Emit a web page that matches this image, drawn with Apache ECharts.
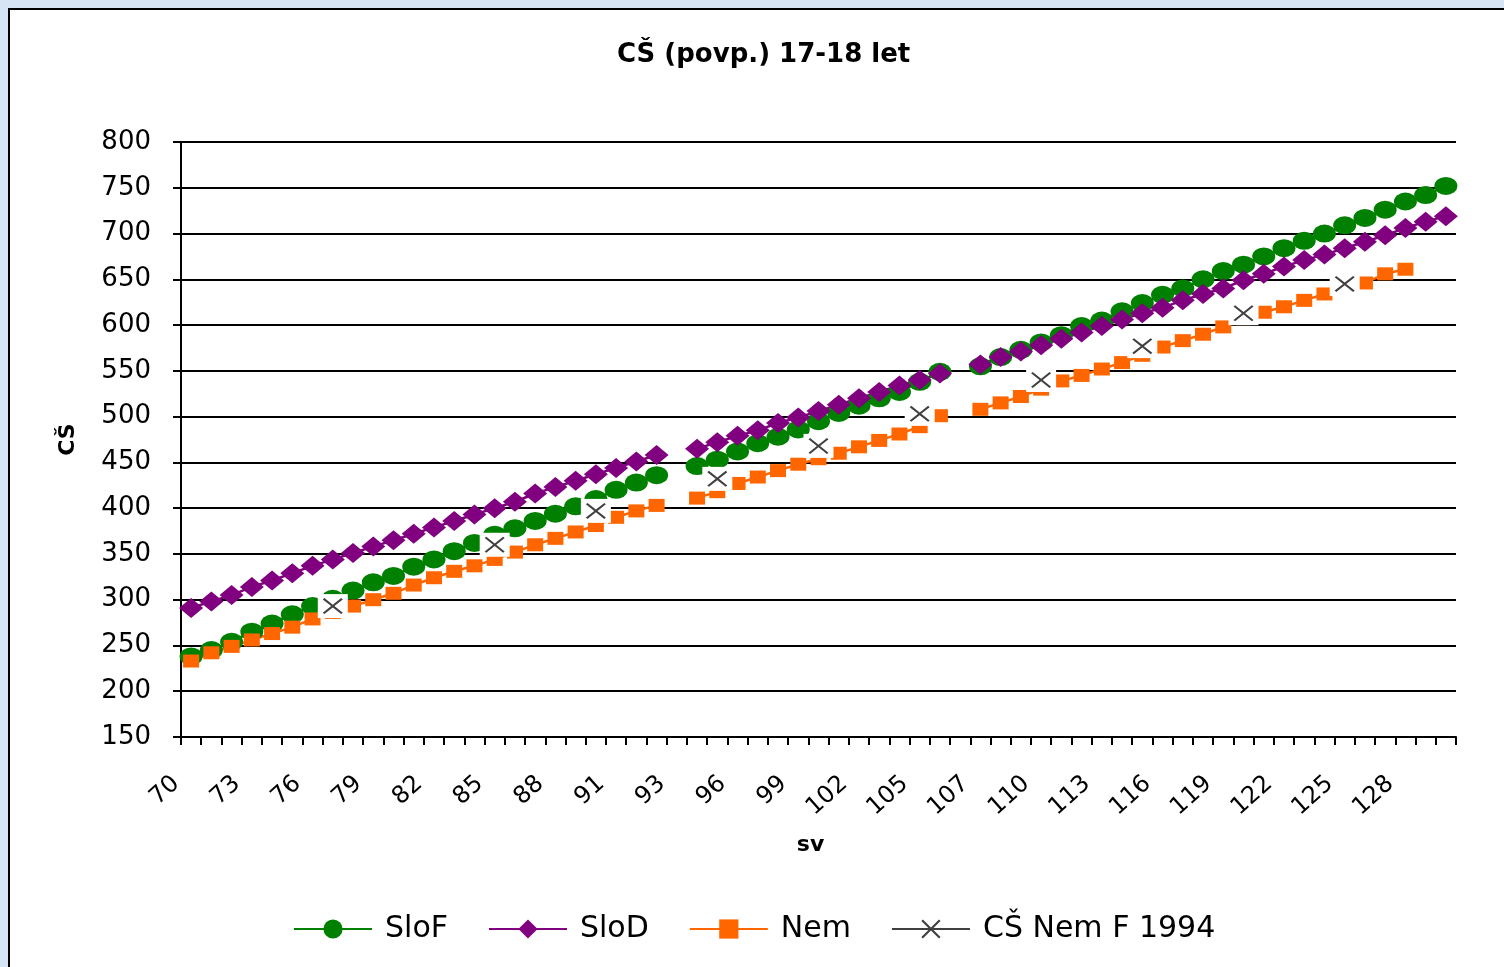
<!DOCTYPE html>
<html>
<head>
<meta charset="utf-8">
<script src="https://cdn.jsdelivr.net/npm/echarts@6/dist/echarts.min.js"></script>
<style>
  html, body { margin: 0; padding: 0; width: 1504px; height: 967px; overflow: hidden; }
  body { background: #d6e4f4; position: relative; }
  #frame { position: absolute; left: 8px; top: 8px; width: 1600px; height: 1100px; background: #fff; border-left: 2px solid #000; border-top: 2px solid #000; }
  #chart { position: absolute; left: 0; top: 0; width: 1504px; height: 967px; }
</style>
</head>
<body>
<div id="frame"></div>
<div id="chart"></div>
<script>
// Categories (sv); the duplicated 93 and 106 rows are blank separator rows
const categories = ['70','71','72','73','74','75','76','77','78','79','80','81','82','83','84','85','86','87','88','89','90','91','92','93',
  '93','94','95','96','97','98','99','100','101','102','103','104','105','106',
  '106','107','108','109','110','111','112','113','114','115','116','117','118','119','120','121','122','123','124','125','126','127','128','129','130'];

const sloF = [238,245,254,265,274,284,293,301,310,319,326,336,344,353,362,371,378,386,394,402,410,420,428,436,
  null,446,453,462,471,478,486,495,504,512,520,527,538,549,
  null,555,565,573,581,589,599,605,615,624,633,640,650,659,666,675,684,692,700,709,717,726,735,742,752];

const sloD = [291,298,305,314,321,329,337,344,351,358,365,372,379,386,393,400,407,416,423,430,437,444,451,458,
  null,465,472,479,485,493,499,506,513,520,527,534,540,547,
  null,557,565,571,578,585,592,599,606,613,619,627,634,640,649,656,664,671,677,684,691,698,706,713,719];

const nem = [233,242,249,256,263,270,279,286,293,300,307,316,324,331,337,344,352,360,367,374,381,390,397,403,
  null,411,418,427,434,441,448,454,460,467,474,481,489,501,
  null,508,515,522,530,539,545,552,559,567,576,583,590,598,607,614,620,627,634,640,646,656,661,null,null];

// CŠ Nem F 1994: values only at selected sv
const nemF1994Cats = ['77','85','90','95','100','105','110','115','120','125'];
const nemF1994Vals = [293,360,397,432,468,503,540,577,613,645];

const nemF1994 = categories.map(() => null);
nemF1994Cats.forEach((c, k) => { nemF1994[categories.lastIndexOf(c)] = nemF1994Vals[k]; });

const yTicks = { min: 150, max: 800, interval: 50 };

const FONT = 'DejaVu Sans';
const xPath = 'path://M0,1.6 L1.6,0 L10,8.4 L18.4,0 L20,1.6 L11.6,10 L20,18.4 L18.4,20 L10,11.6 L1.6,20 L0,18.4 L8.4,10 Z';

const chart = echarts.init(document.getElementById('chart'), null, { renderer: 'canvas' });
chart.setOption({
  animation: false,
  backgroundColor: 'transparent',
  title: {
    text: 'CŠ (povp.) 17-18 let',
    left: 612, top: 37,
    textStyle: { fontFamily: FONT, fontWeight: 'bold', fontSize: 26, color: '#000' }
  },
  legend: {
    data: ['SloF', 'SloD', 'Nem', 'CŠ Nem F 1994'],
    left: 288, top: 909,
    itemWidth: 78, itemHeight: 24, itemGap: 40,
    textStyle: { fontFamily: FONT, fontSize: 30, color: '#000', padding: [0, 0, 0, 8] }
  },
  grid: { left: 181, right: 48, top: 142, bottom: 230, containLabel: false },
  xAxis: {
    type: 'category',
    data: categories,
    boundaryGap: true,
    name: 'sv',
    nameLocation: 'middle',
    nameGap: 97,
    nameTextStyle: { fontFamily: FONT, fontWeight: 'bold', fontSize: 22, color: '#000', padding: [0, 16, 0, 0] },
    axisLine: { lineStyle: { color: '#000', width: 2 } },
    axisTick: { show: true, interval: 0, length: 8, lineStyle: { color: '#000', width: 2 } },
    axisLabel: { interval: 2, rotate: 42, margin: 30, padding: [0, 20, 0, 0], fontFamily: FONT, fontSize: 24, color: '#000' },
    splitLine: { show: false }
  },
  yAxis: {
    type: 'value',
    min: yTicks.min, max: yTicks.max, interval: yTicks.interval,
    name: 'CŠ',
    nameLocation: 'middle',
    nameGap: 102,
    nameRotate: 90,
    nameTextStyle: { fontFamily: FONT, fontWeight: 'bold', fontSize: 22, color: '#000' },
    axisLine: { show: true, lineStyle: { color: '#000', width: 2 } },
    axisTick: { show: true, length: 8, lineStyle: { color: '#000', width: 2 } },
    axisLabel: { margin: 30, fontFamily: FONT, fontSize: 26, color: '#000' },
    splitLine: { show: true, lineStyle: { color: '#000', width: 2 } }
  },
  series: [
    {
      name: 'SloF', type: 'line', data: sloF,
      symbol: 'circle', symbolSize: [23, 18], showAllSymbol: true,
      itemStyle: { color: '#008000' },
      lineStyle: { color: '#008000', width: 2.5 }
    },
    {
      name: 'SloD', type: 'line', data: sloD,
      symbol: 'diamond', symbolSize: [24, 20], showAllSymbol: true,
      itemStyle: { color: '#800080' },
      lineStyle: { color: '#800080', width: 2.5 }
    },
    {
      name: 'Nem', type: 'line', data: nem,
      symbol: 'rect', symbolSize: [16, 13], showAllSymbol: true,
      itemStyle: { color: '#FF6600' },
      lineStyle: { color: '#FF6600', width: 2.5 }
    },
    {
      name: '_boxF1994', type: 'line', data: nemF1994,
      symbol: 'rect', symbolSize: [30, 24], showAllSymbol: true,
      itemStyle: { color: '#ffffff' },
      lineStyle: { width: 0, opacity: 0 },
      silent: true
    },
    {
      name: 'CŠ Nem F 1994', type: 'line', data: nemF1994,
      symbol: xPath, symbolSize: [20, 16], showAllSymbol: true,
      itemStyle: { color: '#404040' },
      lineStyle: { color: '#404040', width: 2 }
    }
  ]
});
</script>
</body>
</html>
